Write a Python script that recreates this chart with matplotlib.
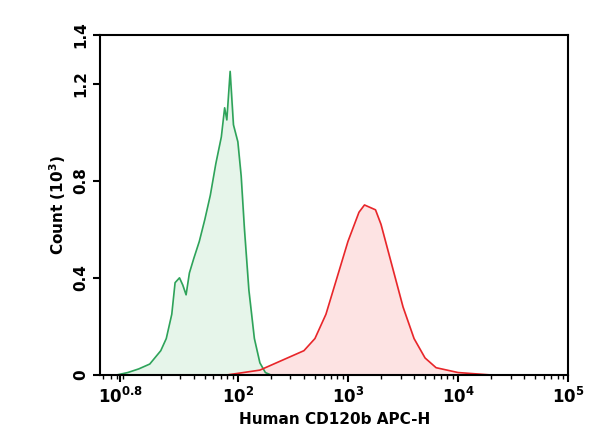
import matplotlib
matplotlib.use("Agg")
import matplotlib.pyplot as plt
import numpy as np

# histogram outlines (log10 of intensity, count in 10^3)
green_logx = [0.9, 1.0, 1.1, 1.2, 1.3, 1.35, 1.4, 1.43, 1.47, 1.5, 1.53, 1.56, 1.6, 1.65, 1.7,
              1.75, 1.8, 1.85, 1.88, 1.9, 1.93, 1.96, 2.0, 2.03, 2.06, 2.1, 2.15, 2.2, 2.25, 2.3]
green_count = [0, 0.01, 0.025, 0.045, 0.1, 0.15, 0.25, 0.38, 0.40, 0.37, 0.33, 0.42, 0.48, 0.55, 0.64,
               0.74, 0.87, 0.98, 1.10, 1.05, 1.25, 1.03, 0.96, 0.82, 0.60, 0.35, 0.15, 0.05, 0.01, 0]
red_logx = [1.9, 2.2, 2.35, 2.5, 2.6, 2.7, 2.8, 2.9, 3.0, 3.1, 3.15, 3.2, 3.25, 3.3, 3.4,
            3.5, 3.6, 3.7, 3.8, 4.0, 4.3]
red_count = [0, 0.02, 0.05, 0.08, 0.10, 0.15, 0.25, 0.40, 0.55, 0.67, 0.70, 0.69, 0.68, 0.62, 0.45,
             0.28, 0.15, 0.07, 0.03, 0.01, 0]

xtick_pos = [10**0.93, 1e2, 1e3, 1e4, 1e5]
xtick_labels = [r"$\mathbf{10^{0.8}}$", r"$\mathbf{10^{2}}$", r"$\mathbf{10^{3}}$",
                r"$\mathbf{10^{4}}$", r"$\mathbf{10^{5}}$"]
ytick_pos = [0, 0.4, 0.8, 1.2, 1.4]
ytick_labels = ["0", "0.4", "0.8", "1.2", "1.4"]

fig = plt.figure(figsize=(6, 4.48), dpi=100)
ax = fig.add_axes([0.167, 0.163, 0.78, 0.759])

gx = 10 ** np.array(green_logx)
rx = 10 ** np.array(red_logx)
ax.fill_between(gx, green_count, color="#e6f5ea")
ax.plot(gx, green_count, color="#2ea35a", lw=1.2)
ax.fill_between(rx, red_count, color="#fde3e3", zorder=1)
ax.plot(rx, red_count, color="#e8262a", lw=1.2)

ax.set_xscale("log")
ax.set_xlim(10**0.75, 10**5)
ax.set_ylim(0, 1.4)
ax.set_xticks(xtick_pos)
ax.set_xticklabels(xtick_labels, fontsize=12)
ax.set_yticks(ytick_pos)
ax.set_yticklabels(ytick_labels, rotation=90, va="center", fontsize=11, fontweight="bold")
ax.tick_params(axis="both", width=1.5, length=5)
ax.tick_params(axis="x", which="minor", width=1, length=3)
for s in ax.spines.values():
    s.set_linewidth(1.5)
ax.set_xlabel("Human CD120b APC-H", fontsize=11, fontweight="bold")
ax.set_ylabel(r"Count ($\mathbf{10^3}$)", fontsize=11, fontweight="bold")

fig.savefig("out.png", dpi=100)
